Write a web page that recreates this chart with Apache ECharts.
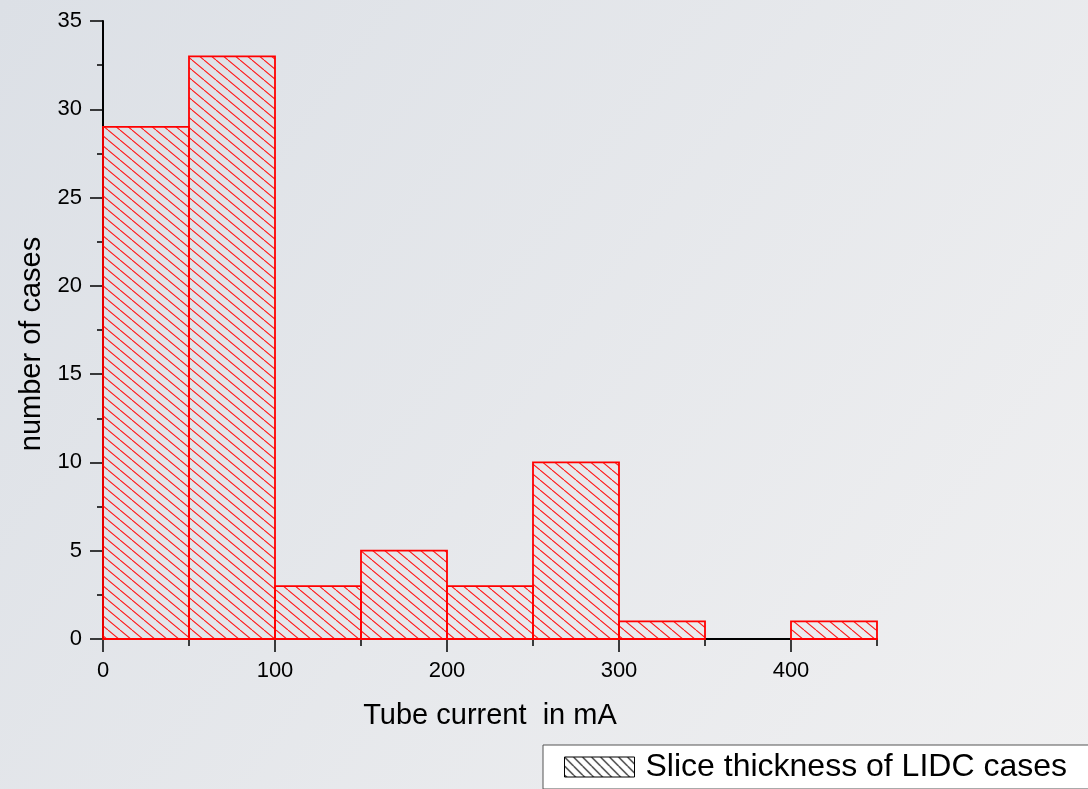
<!DOCTYPE html>
<html><head><meta charset="utf-8">
<script src="https://cdn.jsdelivr.net/npm/echarts@6/dist/echarts.min.js"></script>
<style>html,body{margin:0;padding:0;}#c{width:1088px;height:789px;}</style>
</head><body><div id="c"></div>
<script>
// Histogram data: bin edges (mA) and case counts
const binStart = [0, 50, 100, 150, 200, 250, 300, 350, 400];
const binEnd   = [50, 100, 150, 200, 250, 300, 350, 400, 450];
const counts   = [29, 33, 3, 5, 3, 10, 1, 0, 1];
const xMajorTicks = [0, 100, 200, 300, 400];
const seriesName = 'Slice thickness of LIDC cases';

function hatch(color, w, h, width) {
  const c = document.createElement('canvas');
  c.width = w; c.height = h;
  const g = c.getContext('2d');
  g.strokeStyle = color; g.lineWidth = width;
  g.beginPath();
  for (const k of [-1, 0, 1]) { g.moveTo(k * w, 0); g.lineTo(k * w + w, h); }
  g.stroke();
  return c;
}
const redPattern = { image: hatch('#ff1a1a', 12, 10, 1.1), repeat: 'repeat' };
const blackPattern = { image: hatch('#000000', 9, 9, 1.1), repeat: 'repeat' };

const data = binStart.map((s, i) => [s, binEnd[i], counts[i]]);
const font = '"Liberation Sans", Arial, Helvetica, sans-serif';

const chart = echarts.init(document.getElementById('c'));
chart.setOption({
  animation: false,
  backgroundColor: {
    type: 'linear', x: 0, y: 0, x2: 1, y2: 1,
    colorStops: [{ offset: 0, color: '#dce0e6' }, { offset: 1, color: '#f0f0f1' }]
  },
  grid: { left: 103, right: 211, top: 21, bottom: 150 },
  legend: {
    left: 543, top: 745,
    padding: [6, 40, 6, 21],
    backgroundColor: '#ffffff', borderColor: '#555555', borderWidth: 1,
    itemWidth: 70, itemHeight: 20,
    textStyle: { fontFamily: font, fontSize: 32, color: '#000', lineHeight: 32, padding: [0, 0, 0, 6] },
    data: [{ name: seriesName, icon: 'rect', itemStyle: { color: blackPattern, borderColor: '#000', borderWidth: 1 } }]
  },
  xAxis: [{
    type: 'value', min: 0, max: 450, interval: 50,
    name: 'Tube current  in mA', nameLocation: 'middle', nameGap: 62,
    nameTextStyle: { fontFamily: font, fontSize: 29, color: '#000' },
    axisLine: { show: true, lineStyle: { color: '#000', width: 2 } },
    axisTick: { show: true, length: 7, lineStyle: { color: '#000', width: 1.5 } },
    axisLabel: { margin: 21, fontFamily: font, fontSize: 22, color: '#000',
      formatter: v => (v % 100 === 0 && v <= 400) ? String(v) : '' },
    splitLine: { show: false }
  }, {
    type: 'value', min: 0, max: 450, position: 'bottom', offset: 0,
    axisLine: { show: false },
    axisTick: { show: true, length: 13, customValues: xMajorTicks, lineStyle: { color: '#000', width: 1.5 } },
    axisLabel: { show: false },
    splitLine: { show: false }
  }],
  yAxis: {
    type: 'value', min: 0, max: 35, interval: 5,
    name: 'number of cases', nameLocation: 'middle', nameGap: 55, nameRotate: 90,
    nameTextStyle: { fontFamily: font, fontSize: 29, color: '#000', padding: [0, 28, 0, 0] },
    axisLine: { show: true, lineStyle: { color: '#000', width: 2 } },
    axisTick: { show: true, length: 13, lineStyle: { color: '#000', width: 1.5 } },
    minorTick: { show: true, splitNumber: 2, length: 6, lineStyle: { color: '#000', width: 1.5 } },
    axisLabel: { margin: 21, fontFamily: font, fontSize: 22, color: '#000' },
    splitLine: { show: false }
  },
  series: [{
    name: seriesName,
    type: 'custom',
    xAxisIndex: 0,
    encode: { x: [0, 1], y: 2 },
    data: data,
    renderItem: function (params, api) {
      const y = api.value(2);
      if (!y) return null;
      const p0 = api.coord([api.value(0), 0]);
      const p1 = api.coord([api.value(1), y]);
      return {
        type: 'rect',
        shape: { x: p0[0], y: p1[1], width: p1[0] - p0[0], height: p0[1] - p1[1] },
        style: { fill: redPattern, stroke: '#ff0000', lineWidth: 1.8 }
      };
    }
  }]
});
</script></body></html>
